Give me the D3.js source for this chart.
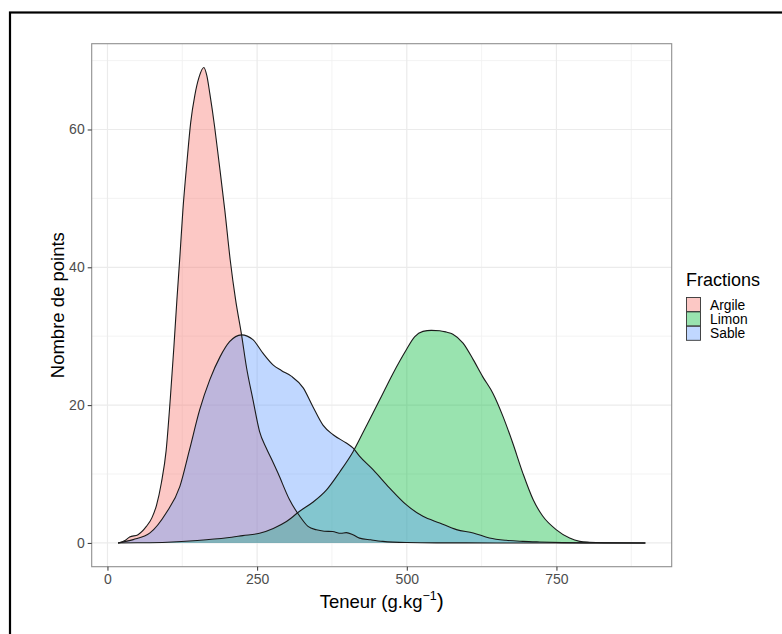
<!DOCTYPE html>
<html>
<head>
<meta charset="utf-8">
<script src="https://cdn.jsdelivr.net/npm/d3@7"></script>
<style>
  html, body { margin: 0; padding: 0; background: #fff; }
  svg { display: block; }
</style>
</head>
<body>
<svg id="chart" width="782" height="634"></svg>
<script>
// ---- Data ----
const fractions = ["Argile", "Limon", "Sable"];
const fillColors = ["#F8766D", "#00BA38", "#619CFF"];

const argile = [[17.7,0],[30,0.4],[37,0.85],[51,1.2],[65,2.4],[74,3.6],[82,5.5],[90,8.7],[98,13.4],[105,21.0],[111,28.5],[116,35.3],[121,41.6],[126,48.3],[133,55.5],[139,61.0],[146,65.0],[153,67.6],[161,69.0],[166,67.8],[171,65.2],[179,60.4],[186,55.5],[196,48.3],[205,41.1],[214,35.3],[224,30.2],[232,25.6],[243,20.8],[254,16.2],[265,13.8],[275,12.0],[285,10.1],[304,6.3],[321,3.9],[335,2.4],[349,1.9],[362,1.7],[376,1.65],[390,1.4],[399,1.5],[410,1.2],[421,0.7],[440,0.45],[460,0.23],[500,0.06],[550,0.01],[650,0],[898.5,0]];

const limon = [[17.7,0],[50,0.02],[100,0.1],[150,0.35],[200,0.75],[226,1.06],[254,1.4],[277,2.1],[299,3.1],[321,4.6],[343,5.9],[366,7.7],[388,10.3],[410,13.2],[432,16.9],[455,20.8],[477,24.6],[499,28.0],[513,29.9],[527,30.7],[541,30.85],[555,30.8],[566,30.6],[577,30.3],[594,29.0],[611,26.6],[627,24.1],[644,21.7],[661,18.3],[677,14.5],[694,10.1],[711,6.3],[727,3.9],[750,1.9],[772,0.7],[789,0.23],[805,0.1],[830,0.03],[898.5,0]];

const sable = [[17.7,0],[43,0.48],[71,1.45],[98,4.35],[121,8.2],[137,13.5],[154,19.3],[171,23.7],[188,27.0],[204,29.2],[224,30.2],[243,29.5],[260,27.5],[277,25.8],[291,25.0],[307,24.2],[327,22.5],[343,19.8],[360,17.1],[377,15.7],[399,14.5],[410,13.8],[421,12.6],[444,10.6],[471,8.0],[499,5.55],[527,3.86],[555,2.9],[583,1.93],[611,1.45],[638,0.72],[666,0.38],[694,0.23],[722,0.14],[760,0.05],[800,0.01],[898.5,0]];

const seriesValues = [argile, limon, sable];

const xMajorTicks = [0, 250, 500, 750];
const xMinorTicks = [125, 375, 625, 875];
const yMajorTicks = [0, 20, 40, 60];
const yMinorTicks = [10, 30, 50, 70];

const xTitle = "Teneur (g.kg";
const xTitleSup = "\u22121";
const yTitle = "Nombre de points";
const legendTitle = "Fractions";

// ---- Layout ----
const svg = d3.select("#chart");
const panel = { left: 91.7, top: 43.7, right: 671.7, bottom: 566.7 };
const font = "'Liberation Sans', Arial, Helvetica, sans-serif";

svg.append("rect").attr("width", 782).attr("height", 634).attr("fill", "#fff");
// outer frame
svg.append("rect")
  .attr("x", 10).attr("y", 12.5).attr("width", 800).attr("height", 660)
  .attr("fill", "none").attr("stroke", "#000").attr("stroke-width", 2.2);

// scales with ggplot-like 5% expansion
const allX = seriesValues.flat().map(d => d[0]);
const allY = seriesValues.flat().map(d => d[1]);
const xmin = d3.min(allX), xmax = d3.max(allX);
const ymin = 0, ymax = d3.max(allY);
const xe = (xmax - xmin) * 0.05, ye = (ymax - ymin) * 0.05;
const x = d3.scaleLinear().domain([xmin - xe, xmax + xe]).range([panel.left, panel.right]);
const y = d3.scaleLinear().domain([ymin - ye, ymax + ye]).range([panel.bottom, panel.top]);

// grid
const grid = svg.append("g");
grid.selectAll(".xminor").data(xMinorTicks).join("line")
  .attr("x1", d => x(d)).attr("x2", d => x(d))
  .attr("y1", panel.top).attr("y2", panel.bottom)
  .attr("stroke", "#F0F0F0").attr("stroke-width", 0.8);
grid.selectAll(".yminor").data(yMinorTicks).join("line")
  .attr("y1", d => y(d)).attr("y2", d => y(d))
  .attr("x1", panel.left).attr("x2", panel.right)
  .attr("stroke", "#F0F0F0").attr("stroke-width", 0.8);
grid.selectAll(".xmajor").data(xMajorTicks).join("line")
  .attr("x1", d => x(d)).attr("x2", d => x(d))
  .attr("y1", panel.top).attr("y2", panel.bottom)
  .attr("stroke", "#EBEBEB").attr("stroke-width", 1.2);
grid.selectAll(".ymajor").data(yMajorTicks).join("line")
  .attr("y1", d => y(d)).attr("y2", d => y(d))
  .attr("x1", panel.left).attr("x2", panel.right)
  .attr("stroke", "#EBEBEB").attr("stroke-width", 1.2);

// densities
const area = d3.area().x(d => x(d[0])).y0(y(0)).y1(d => y(d[1])).curve(d3.curveMonotoneX);
const line = d3.line().x(d => x(d[0])).y(d => y(d[1])).curve(d3.curveMonotoneX);
const gD = svg.append("g");
seriesValues.forEach((s, i) => {
  gD.append("path").attr("d", area(s)).attr("fill", fillColors[i]).attr("fill-opacity", 0.4);
});
seriesValues.forEach((s, i) => {
  gD.append("path").attr("d", line(s)).attr("fill", "none")
    .attr("stroke", "#1a1a1a").attr("stroke-width", 1.1).attr("stroke-linejoin", "round");
});

// panel border
svg.append("rect")
  .attr("x", panel.left).attr("y", panel.top)
  .attr("width", panel.right - panel.left).attr("height", panel.bottom - panel.top)
  .attr("fill", "none").attr("stroke", "#8F8F8F").attr("stroke-width", 1.1);

// axes
const xAxis = d3.axisBottom(x).tickValues(xMajorTicks).tickSize(4).tickPadding(3);
const yAxis = d3.axisLeft(y).tickValues(yMajorTicks).tickSize(4).tickPadding(3);
const gx = svg.append("g").attr("transform", `translate(0,${panel.bottom})`).call(xAxis);
const gy = svg.append("g").attr("transform", `translate(${panel.left},0)`).call(yAxis);
[gx, gy].forEach(g => {
  g.select(".domain").remove();
  g.selectAll(".tick line").attr("stroke", "#333").attr("stroke-width", 1);
  g.selectAll(".tick text").attr("fill", "#4D4D4D").attr("font-size", "14px").attr("font-family", font);
});

// axis titles
const xt = svg.append("text")
  .attr("x", (panel.left + panel.right) / 2).attr("y", 608)
  .attr("text-anchor", "middle").attr("font-family", font).attr("font-size", "18.5px").attr("fill", "#000");
xt.append("tspan").text(xTitle);
xt.append("tspan").attr("dy", -8).attr("font-size", "12.5px").text(xTitleSup);
xt.append("tspan").attr("dy", 8).attr("font-size", "21px").text(")");

svg.append("text")
  .attr("transform", `translate(63.5,${(panel.top + panel.bottom) / 2}) rotate(-90)`)
  .attr("text-anchor", "middle").attr("font-family", font).attr("font-size", "18.5px").attr("fill", "#000")
  .text(yTitle);

// legend
const lg = svg.append("g").attr("transform", "translate(686,0)");
lg.append("text").attr("x", 0).attr("y", 285.5).attr("font-family", font).attr("font-size", "18px").attr("fill", "#000").text(legendTitle);
fractions.forEach((f, i) => {
  const ky = 297.5 + i * 14.4;
  lg.append("rect").attr("x", 0.5).attr("y", ky).attr("width", 14).attr("height", 14)
    .attr("fill", "#fff");
  lg.append("rect").attr("x", 0.5).attr("y", ky).attr("width", 14).attr("height", 14)
    .attr("fill", fillColors[i]).attr("fill-opacity", 0.4)
    .attr("stroke", "#333").attr("stroke-width", 0.9);
  lg.append("text").attr("x", 24).attr("y", ky + 12).attr("font-family", font).attr("font-size", "13.8px")
    .attr("fill", "#000").text(f);
});
</script>
</body>
</html>
